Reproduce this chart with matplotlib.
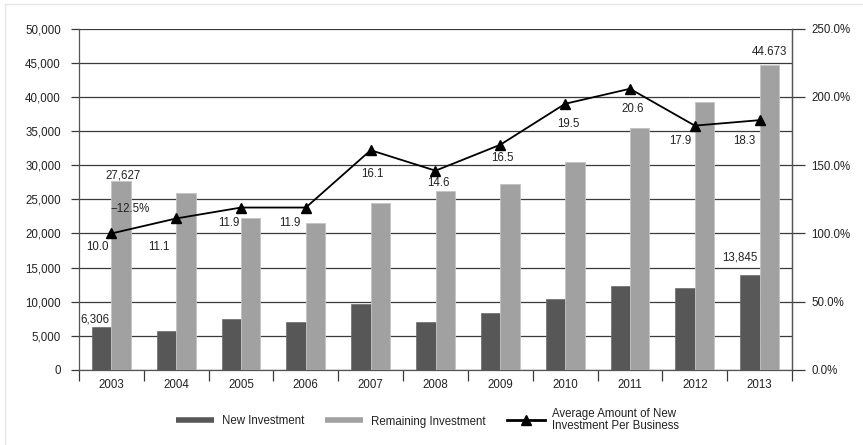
import numpy as np
import matplotlib
matplotlib.use("Agg")
import matplotlib.pyplot as plt
from matplotlib.lines import Line2D
from matplotlib.ticker import FuncFormatter

plt.rcParams['font.family'] = ['Liberation Sans', 'DejaVu Sans']

years = ['2003', '2004', '2005', '2006', '2007', '2008',
         '2009', '2010', '2011', '2012', '2013']
new_investment = [6306, 5750, 7450, 7050, 9600, 7050, 8300, 10450, 12250, 12050, 13845]
remaining_investment = [27627, 25900, 22300, 21600, 24500, 26200, 27200, 30500, 35450, 39200, 44673]
avg_per_business = [10.0, 11.1, 11.9, 11.9, 16.1, 14.6, 16.5, 19.5, 20.6, 17.9, 18.3]
avg_labels = ['10.0', '11.1', '11.9', '11.9', '16.1', '14.6', '16.5', '19.5', '20.6', '17.9', '18.3']

# pixel offsets of the line value labels (dx, dy)
avg_label_offsets = [(-14, -14), (-17, -29), (-12, -15), (-16, -15), (2, -24), (3, -12),
                     (2, -13), (3, -20), (3, -20), (-14, -15), (-15, -21)]

TXT = '#222222'
DARK = '#575757'
LIGHT = '#a1a1a1'
GRID = '#3a3a3a'
FS = 8.3

W, H = 863, 445
fig = plt.figure(figsize=(W / 100, H / 100), dpi=100)
fig.patch.set_facecolor('white')

# thin frame lines along top and left edges
fig.add_artist(Line2D([5 / W, 5 / W], [0, 1 - 4 / H], color='#e6e6e6', lw=1))
fig.add_artist(Line2D([5 / W, 1], [1 - 4 / H, 1 - 4 / H], color='#e6e6e6', lw=1))

left, right, top, bottom = 79, 792, 28.7, 370
ax = fig.add_axes([left / W, 1 - bottom / H, (right - left) / W, (bottom - top) / H])

x = np.arange(len(years))
bw = 0.3
ax.bar(x - bw / 2, new_investment, bw, color=DARK, edgecolor='#6a6a6a', linewidth=0.5, zorder=3)
ax.bar(x + bw / 2, remaining_investment, bw, color=LIGHT, edgecolor='#c4c4c4', linewidth=0.6, zorder=3)

ax.set_xlim(-0.5, len(years) - 0.5)
ax.set_ylim(0, 50000)
ax.set_yticks(np.arange(0, 50001, 5000))
ax.yaxis.set_major_formatter(FuncFormatter(lambda v, p: f"{int(v):,}"))
ax.grid(axis='y', color=GRID, linewidth=0.9, zorder=0)
ax.set_axisbelow(True)

ax.set_xticks(np.arange(-0.5, len(years), 1.0))
ax.set_xticklabels([])
ax.set_xticks(x, minor=True)
ax.set_xticklabels(years, minor=True)
ax.tick_params(axis='x', which='major', length=8, width=0.9, color=GRID, direction='out')
ax.tick_params(axis='x', which='minor', length=0, pad=6.5, labelsize=FS, labelcolor=TXT)
ax.tick_params(axis='y', length=6, width=0.9, color=GRID, pad=7, labelsize=FS, labelcolor=TXT)

for s in ['top']:
    ax.spines[s].set_visible(False)
for s in ['left', 'bottom', 'right']:
    ax.spines[s].set_color('#555555')
    ax.spines[s].set_linewidth(0.9)

# value labels on selected bars
ax.annotate('27,627', (x[0] + bw / 2, remaining_investment[0]), xytext=(2, 6),
            textcoords='offset pixels', ha='center', va='center', fontsize=FS, color=TXT)
ax.annotate('6,306', (x[0] - bw / 2, new_investment[0]), xytext=(-7, 7),
            textcoords='offset pixels', ha='center', va='center', fontsize=FS, color=TXT)
ax.annotate('44.673', (x[-1] + bw / 2, remaining_investment[-1]), xytext=(0, 13),
            textcoords='offset pixels', ha='center', va='center', fontsize=FS, color=TXT)
ax.annotate('13,845', (x[-1] - bw / 2, new_investment[-1]), xytext=(-10, 18),
            textcoords='offset pixels', ha='center', va='center', fontsize=FS, color=TXT)

ax.text((130 - left) / (right - left), (bottom - 209) / (bottom - top), '\u221212.5%',
        transform=ax.transAxes, ha='center', va='center', fontsize=FS, color=TXT, zorder=6)

# secondary axis: average new investment per business
ax2 = ax.twinx()
ax2.set_ylim(0, 25)
ax2.set_yticks(np.arange(0, 25.1, 5))
ax2.yaxis.set_major_formatter(FuncFormatter(lambda v, p: f"{v * 10:.1f}%"))
ax2.tick_params(axis='y', length=9, width=0.9, color=GRID, pad=5, labelsize=FS, labelcolor=TXT)
for s in ['top', 'left', 'bottom']:
    ax2.spines[s].set_visible(False)
ax2.spines['right'].set_color('#555555')
ax2.spines['right'].set_linewidth(0.9)

ax2.plot(x, avg_per_business, color='black', lw=1.3, marker='^', markersize=6.5,
         markerfacecolor='black', zorder=5)
for xi, v, lab, (dx, dy) in zip(x, avg_per_business, avg_labels, avg_label_offsets):
    ax2.annotate(lab, (xi, v), xytext=(dx, dy), textcoords='offset pixels',
                 ha='center', va='center', fontsize=FS, color=TXT)

handles = [
    Line2D([], [], color=DARK, lw=4, solid_capstyle='butt'),
    Line2D([], [], color=LIGHT, lw=4, solid_capstyle='butt'),
    Line2D([], [], color='black', lw=2, marker='^', markersize=7),
]
labels = ['New Investment', 'Remaining Investment', 'Average Amount of New\nInvestment Per Business']
leg = fig.legend(handles, labels, loc='center left', bbox_to_anchor=(176 / W, 1 - 420 / H),
                 ncol=3, frameon=False, fontsize=FS, handlelength=3.3, handletextpad=0.65,
                 columnspacing=1.85, borderpad=0, borderaxespad=0)
for t in leg.get_texts():
    t.set_color(TXT)
    t.set_linespacing(0.9)

fig.savefig('out.png', dpi=100, facecolor='white')
